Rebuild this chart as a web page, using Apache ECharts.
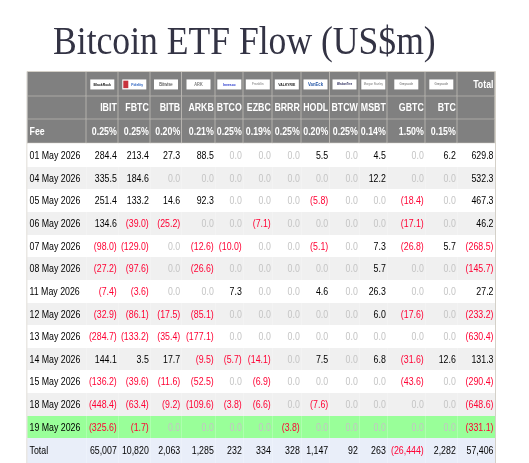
<!DOCTYPE html>
<html>
<head>
<meta charset="utf-8">
<style>html,body{margin:0;padding:0;background:#fff}#main{width:529px;height:463px}</style>
<script src="https://cdn.jsdelivr.net/npm/echarts@6/dist/echarts.min.js"></script>
</head>
<body>
<div id="main"></div>
<script>
var titleText = 'Bitcoin ETF Flow (US$m)';
var tickers = ['IBIT','FBTC','BITB','ARKB','BTCO','EZBC','BRRR','HODL','BTCW','MSBT','GBTC','BTC'];
var issuers = ['BlackRock','Fidelity','Bitwise','ARK','Invesco','Franklin','VALKYRIE','VanEck','WisdomTree','Morgan Stanley','Grayscale','Grayscale'];
var fees = ['0.25%','0.25%','0.20%','0.21%','0.25%','0.19%','0.25%','0.20%','0.25%','0.14%','1.50%','0.15%'];
var dates = ['01 May 2026','04 May 2026','05 May 2026','06 May 2026','07 May 2026','08 May 2026','11 May 2026','12 May 2026','13 May 2026','14 May 2026','15 May 2026','18 May 2026','19 May 2026'];

// flows per fund, one value per date
var ibit = [284.4,335.5,251.4,134.6,-98.0,-27.2,-7.4,-32.9,-284.7,144.1,-136.2,-448.4,-325.6];
var fbtc = [213.4,184.6,133.2,-39.0,-129.0,-97.6,-3.6,-86.1,-133.2,3.5,-39.6,-63.4,-1.7];
var bitb = [27.3,0,14.6,-25.2,0,0,0,-17.5,-35.4,17.7,-11.6,-9.2,0];
var arkb = [88.5,0,92.3,0,-12.6,-26.6,0,-85.1,-177.1,-9.5,-52.5,-109.6,0];
var btco = [0,0,0,0,-10.0,0,7.3,0,0,-5.7,0,-3.8,0];
var ezbc = [0,0,0,-7.1,0,0,0,0,0,-14.1,-6.9,-6.6,0];
var brrr = [0,0,0,0,0,0,0,0,0,0,0,0,-3.8];
var hodl = [5.5,0,-5.8,0,-5.1,0,4.6,0,0,7.5,0,-7.6,0];
var btcw = [0,0,0,0,0,0,0,0,0,0,0,0,0];
var msbt = [4.5,12.2,0,0,7.3,5.7,26.3,6.0,0,6.8,0,0,0];
var gbtc = [0,0,-18.4,-17.1,-26.8,0,0,-17.6,0,-31.6,-43.6,0,0];
var btc = [6.2,0,0,0,5.7,0,0,0,0,12.6,0,0,0];
var dayTotals = [629.8,532.3,467.3,46.2,-268.5,-145.7,27.2,-233.2,-630.4,131.3,-290.4,-648.6,-331.1];
var fundTotals = [65007,10820,2063,1285,232,334,328,1147,92,263,-26444,2282,57406];

var funds = [ibit,fbtc,bitb,arkb,btco,ezbc,brrr,hodl,btcw,msbt,gbtc,btc,dayTotals];

// table layout in the axis units
var colEdges = [27.5,86.3,118.3,150.3,181.7,215.3,243.3,272.3,301.3,329.7,359.3,387.3,425.3,457.3,495];
var rowEdges = [72,96.3,119.3,143.3,167,189,212,235,257,280,303,325,348,370,393,416,438,463];

// logo look: text colour, bold, font size
var logoStyle = [
    ['#111111', true, 4], ['#2a62c0', true, 4], ['#333333', false, 5], ['#777777', true, 4.5],
    ['#2233cc', true, 4], ['#999999', true, 3.5], ['#222222', true, 4], ['#2a5aa8', true, 5],
    ['#222255', true, 3], ['#777777', false, 3.2], ['#888888', true, 3.4], ['#888888', true, 3.4]
];

var GREY = '#808080', LINE = '#d4d0c8', RED = '#ff0033', ZERO = '#c4c4c4';
var FONT = '"Liberation Sans", Arial, sans-serif';
var SQUEEZE = 0.8;

function fmtFlow(v) {
    var s = Math.abs(v).toFixed(1);
    return v < 0 ? '(' + s + ')' : s;
}
function fmtTotal(v) {
    var s = Math.abs(v).toLocaleString('en-US');
    return v < 0 ? '(' + s + ')' : s;
}

// every table cell becomes one datum: [col, row, text, kind, background, align]
var cells = [];
function addRow(row, bg, first, texts, kind) {
    cells.push([0, row, first, kind, bg, 'left']);
    for (var c = 0; c < texts.length; c++) {
        cells.push([c + 1, row, texts[c], kind, bg, 'right']);
    }
}
var blanks = tickers.map(function () { return ''; });
addRow(0, GREY, '', blanks.concat(['Total']), 'head');
addRow(1, GREY, '', tickers.concat(['']), 'head');
addRow(2, GREY, 'Fee', fees.concat(['']), 'head');
dates.forEach(function (d, i) {
    var bg = i === 12 ? '#99ff99' : (i % 2 ? '#f0f0f0' : '#ffffff');
    cells.push([0, i + 3, d, 'date', bg, 'left']);
    funds.forEach(function (f, c) {
        var v = f[i];
        var kind = v < 0 ? 'neg' : (v === 0 ? 'zero' : 'pos');
        cells.push([c + 1, i + 3, fmtFlow(v), kind, bg, 'right']);
    });
});
cells.push([0, 16, 'Total', 'date', '#e9eef9', 'left']);
fundTotals.forEach(function (v, c) {
    cells.push([c + 1, 16, fmtTotal(v), v < 0 ? 'neg' : 'pos', '#e9eef9', 'right']);
});

var textColor = {head: '#ffffff', date: '#000000', pos: '#000000', neg: RED, zero: ZERO};

function renderCell(params, api) {
    var c = api.value(0), r = api.value(1);
    var tl = api.coord([colEdges[c], rowEdges[r]]);
    var br = api.coord([colEdges[c + 1], rowEdges[r + 1]]);
    var d = cells[params.dataIndex];
    var kind = d[3];
    var children = [{
        type: 'rect',
        shape: {x: tl[0], y: tl[1], width: br[0] - tl[0], height: br[1] - tl[1]},
        style: {fill: d[4]}
    }];
    if (kind === 'head') {
        // header grid lines
        children.push({type: 'rect', shape: {x: br[0] - 0.6, y: tl[1], width: 1.2, height: br[1] - tl[1]}, style: {fill: LINE}});
        children.push({type: 'rect', shape: {x: tl[0], y: br[1] - 0.6, width: br[0] - tl[0], height: 1.2}, style: {fill: LINE}});
    }
    if (d[2] !== '') {
        var left = d[5] === 'left';
        children.push({
            type: 'text',
            x: left ? tl[0] + 2 : br[0] - 1.5,
            y: (tl[1] + br[1]) / 2 + 0.6,
            scaleX: SQUEEZE,
            style: {
                text: d[2],
                fill: textColor[kind],
                font: (kind === 'head' ? 'bold ' : '') + '11px ' + FONT,
                textAlign: left ? 'left' : 'right',
                textVerticalAlign: 'middle'
            }
        });
    }
    return {type: 'group', children: children};
}

// issuer logos in the top header row, drawn as small white plates
function renderLogo(params, api) {
    var c = api.value(0);
    var tl = api.coord([colEdges[c], rowEdges[0]]);
    var br = api.coord([colEdges[c + 1], rowEdges[1]]);
    var cx = (tl[0] + br[0]) / 2, cy = (tl[1] + br[1]) / 2;
    var name = issuers[params.dataIndex];
    var look = logoStyle[params.dataIndex];
    var isFidelity = name === 'Fidelity';
    var children = [
        {type: 'rect', shape: {x: cx - 12, y: cy - 4.7, width: 24, height: 10}, style: {fill: '#ffffff'}},
        {type: 'text', x: cx + (isFidelity ? 3 : 0), y: cy + 0.3, scaleX: 0.85, style: {
            text: name, fill: look[0],
            font: (look[1] ? 'bold ' : '') + look[2] + 'px ' + FONT,
            textAlign: 'center', textVerticalAlign: 'middle'
        }}
    ];
    if (isFidelity) {
        children.push({type: 'rect', shape: {x: cx - 11, y: cy - 3.5, width: 5, height: 7.5}, style: {fill: '#c8323c'}});
    }
    return {type: 'group', children: children};
}

var option = {
    animation: false,
    backgroundColor: '#ffffff',
    graphic: [
        {type: 'text', left: 53, top: 23.5, scaleX: 0.89, silent: true, style: {
            text: titleText, fill: '#333344', font: '40px "Liberation Serif", "Times New Roman", serif'
        }},
        // outer table border
        {type: 'rect', silent: true, shape: {x: 27, y: 71.5, width: 468.5, height: 392}, style: {fill: 'none', stroke: LINE, lineWidth: 1}}
    ],
    grid: {left: 0, right: 0, top: 0, bottom: 0},
    xAxis: {type: 'value', min: 0, max: 529, show: false},
    yAxis: {type: 'value', min: 0, max: 463, inverse: true, show: false},
    series: [
        {type: 'custom', coordinateSystem: 'cartesian2d', renderItem: renderCell, silent: true, z: 1,
            encode: {x: 0, y: 1},
            data: cells.map(function (d) { return [d[0], d[1]]; })},
        {type: 'custom', coordinateSystem: 'cartesian2d', renderItem: renderLogo, silent: true, z: 2,
            encode: {x: 0, y: 1},
            data: issuers.map(function (n, i) { return [i + 1, 0]; })}
    ]
};

var myChart = echarts.init(document.getElementById('main'), null, {renderer: 'canvas'});
myChart.setOption(option);
</script>
</body>
</html>
